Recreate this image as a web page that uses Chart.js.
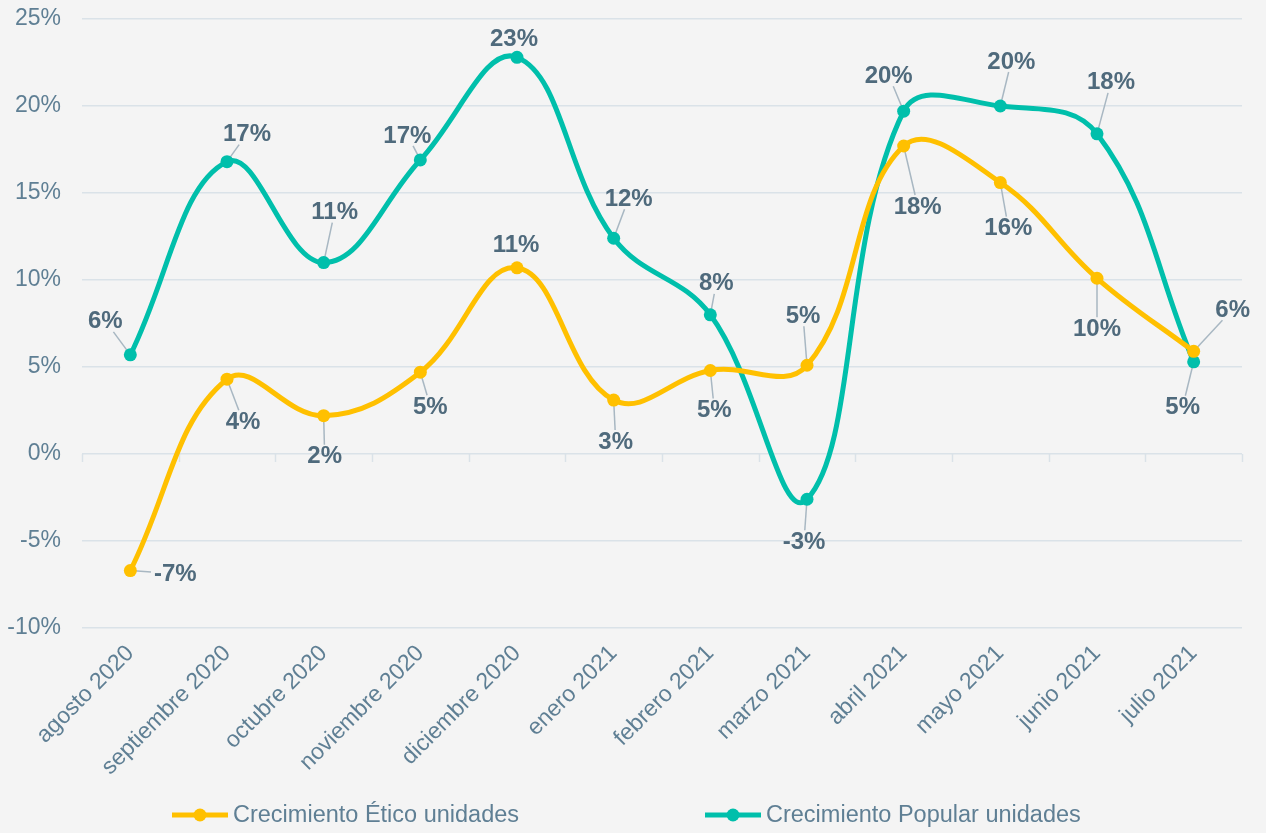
<!DOCTYPE html>
<html>
<head>
<meta charset="utf-8">
<script src="https://cdn.jsdelivr.net/npm/chart.js@4.4.1/dist/chart.umd.min.js"></script>
<style>
  html, body { margin: 0; padding: 0; background: #f4f4f4; }
  #wrap { width: 1266px; height: 833px; position: relative; }
</style>
</head>
<body>
<div id="wrap"><canvas id="chart"></canvas></div>
<script>
// ===== Datos =====
const meses = [
  'agosto 2020', 'septiembre 2020', 'octubre 2020', 'noviembre 2020',
  'diciembre 2020', 'enero 2021', 'febrero 2021', 'marzo 2021',
  'abril 2021', 'mayo 2021', 'junio 2021', 'julio 2021'
];
const crecimientoEtico   = [-6.7, 4.3, 2.2, 4.7, 10.7, 3.1, 4.8, 5.1, 17.7, 15.6, 10.1, 5.9];
const crecimientoPopular = [5.7, 16.8, 11.0, 16.9, 22.8, 12.4, 8.0, -2.6, 19.7, 20.0, 18.4, 5.3];
const yMin = -10, yMax = 25, yStep = 5;

// ===== Estilos / posiciones de etiquetas (px respecto al punto) =====
const colorEtico = '#ffc000';
const colorPopular = '#00bfab';
const colorTexto = '#5f7f94';
const colorEtiqueta = '#4f6a7c';
const colorGrid = '#dae2e8';
const FONT = '"Liberation Sans", Arial, sans-serif';

const offsetsEtico = [[45,3],[16,42],[1,40],[10,34],[-1,-23],[2,41],[4,39],[-4,-50],[14,60],[8,45],[0,50],[39,-42]];
const offsetsPopular = [[-25,-34],[20,-28],[11,-51],[-13,-25],[-3,-19],[15,-40],[6,-32],[-3,42],[-15,-36],[11,-45],[14,-52],[-11,45]];
const legendX = [172, 705];

// ===== Plugin: ticks en 0%, lineas guia, etiquetas y leyenda =====
const etiquetasPlugin = {
  id: 'etiquetas',
  beforeDatasetsDraw(chart) {
    const ctx = chart.ctx;
    const area = chart.chartArea;
    const y0 = chart.scales.y.getPixelForValue(0);
    const n = meses.length;
    ctx.save();
    ctx.strokeStyle = colorGrid;
    ctx.lineWidth = 1.5;
    ctx.beginPath();
    for (let i = 0; i <= n; i++) {
      const x = Math.round(area.left + i * (area.right - area.left) / n) + 0.5;
      ctx.moveTo(x, y0);
      ctx.lineTo(x, y0 + 8);
    }
    ctx.stroke();

    // lineas guia
    ctx.font = 'bold 24px ' + FONT;
    ctx.strokeStyle = '#a8b7c2';
    ctx.lineWidth = 1.5;
    chart.data.datasets.forEach((ds, di) => {
      const meta = chart.getDatasetMeta(di);
      meta.data.forEach((pt, i) => {
        const [dx, dy] = ds.labelOffsets[i];
        const txt = Math.round(ds.data[i]) + '%';
        const hw = ctx.measureText(txt).width / 2 + 3;
        const hh = 11;
        const s = Math.min(hw / Math.max(Math.abs(dx), 0.001), hh / Math.max(Math.abs(dy), 0.001));
        if (s >= 1) return;
        const ex = pt.x + dx * (1 - s);
        const ey = pt.y + dy * (1 - s);
        const len = Math.hypot(ex - pt.x, ey - pt.y);
        if (len < 14) return;
        ctx.beginPath();
        ctx.moveTo(pt.x, pt.y);
        ctx.lineTo(ex, ey);
        ctx.stroke();
      });
    });
    ctx.restore();
  },
  afterDatasetsDraw(chart) {
    const ctx = chart.ctx;
    ctx.save();
    ctx.font = 'bold 24px ' + FONT;
    ctx.fillStyle = colorEtiqueta;
    ctx.textAlign = 'center';
    ctx.textBaseline = 'middle';
    chart.data.datasets.forEach((ds, di) => {
      const meta = chart.getDatasetMeta(di);
      meta.data.forEach((pt, i) => {
        const [dx, dy] = ds.labelOffsets[i];
        ctx.fillText(Math.round(ds.data[i]) + '%', pt.x + dx, pt.y + dy + 1);
      });
    });
    ctx.restore();
  },
  afterDraw(chart) {
    const ctx = chart.ctx;
    const y = 815;
    ctx.save();
    chart.data.datasets.forEach((ds, di) => {
      const x = legendX[di];
      ctx.strokeStyle = ds.borderColor;
      ctx.lineWidth = 5;
      ctx.beginPath();
      ctx.moveTo(x, y);
      ctx.lineTo(x + 56, y);
      ctx.stroke();
      ctx.fillStyle = ds.borderColor;
      ctx.beginPath();
      ctx.arc(x + 28, y, 6.5, 0, Math.PI * 2);
      ctx.fill();
      ctx.font = '23.5px ' + FONT;
      ctx.fillStyle = colorTexto;
      ctx.textAlign = 'left';
      ctx.textBaseline = 'middle';
      ctx.fillText(ds.label, x + 61, y + 1);
    });
    ctx.restore();
  }
};

const ctx = document.getElementById('chart').getContext('2d');
new Chart(ctx, {
  type: 'line',
  data: {
    labels: meses,
    datasets: [
      {
        label: 'Crecimiento Ético unidades',
        data: crecimientoEtico,
        borderColor: colorEtico,
        backgroundColor: colorEtico,
        labelOffsets: offsetsEtico,
        borderWidth: 5,
        pointRadius: 6.5,
        pointBorderWidth: 0,
        tension: 0.4,
        fill: false
      },
      {
        label: 'Crecimiento Popular unidades',
        data: crecimientoPopular,
        borderColor: colorPopular,
        backgroundColor: colorPopular,
        labelOffsets: offsetsPopular,
        borderWidth: 5,
        pointRadius: 6.5,
        pointBorderWidth: 0,
        tension: 0.4,
        fill: false
      }
    ]
  },
  options: {
    responsive: true,
    maintainAspectRatio: false,
    animation: false,
    layout: { padding: { top: 19, right: 24, left: 0, bottom: 0 } },
    plugins: {
      legend: { display: false },
      tooltip: { enabled: false }
    },
    scales: {
      x: {
        offset: true,
        grid: { display: false, drawTicks: false },
        border: { display: false },
        ticks: {
          color: colorTexto,
          font: { family: FONT, size: 23 },
          minRotation: 45,
          maxRotation: 45,
          padding: 12,
          autoSkip: false
        },
        afterFit(scale) { scale.height = 205; }
      },
      y: {
        min: yMin,
        max: yMax,
        grid: { color: colorGrid, lineWidth: 1.5, drawTicks: false },
        border: { display: false },
        ticks: {
          stepSize: yStep,
          color: colorTexto,
          font: { family: FONT, size: 23 },
          padding: 21,
          callback: v => v + '%'
        },
        afterFit(scale) {
          scale.width = 82;
          scale.paddingTop = 0;
          scale.paddingBottom = 0;
        }
      }
    }
  },
  plugins: [etiquetasPlugin]
});
</script>
</body>
</html>
